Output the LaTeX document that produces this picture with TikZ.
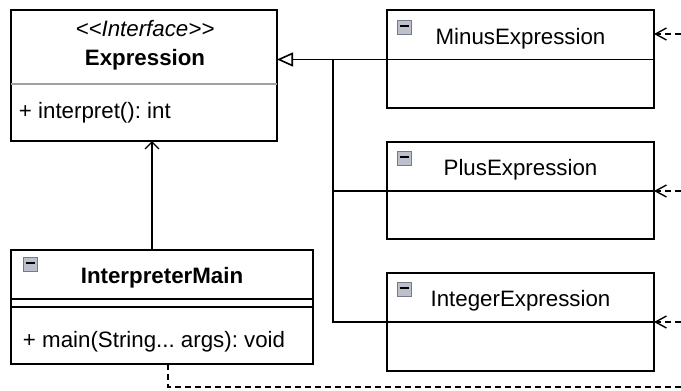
\documentclass[tikz,border=0pt]{standalone}
\usepackage{fontspec}
\setmainfont{Liberation Sans}
\usetikzlibrary{arrows.meta}
\definecolor{iconfill}{RGB}{188,192,204}
\definecolor{iconborder}{RGB}{118,122,134}
\definecolor{sepgray}{RGB}{160,160,160}
\begin{document}
\frenchspacing
\begin{tikzpicture}[x=1pt,y=-1pt,
  every node/.style={font=\fontsize{22.3pt}{26pt}\selectfont\frenchspacing, inner sep=0pt, outer sep=0pt},
  umlbox/.style={draw, line width=1.6pt, rectangle, anchor=north west},
  sepline/.style={line width=1.6pt},
  icon/.style={draw=iconborder, fill=iconfill, line width=0.8pt, minimum size=14pt, anchor=north west,
    path picture={\draw[line width=1.9pt, black] ([xshift=-4.5pt,yshift=1pt]path picture bounding box.center) -- ([xshift=4.5pt,yshift=1pt]path picture bounding box.center);}},
  gen/.style={line width=1.6pt},
  genarrow/.style={line width=1.6pt, -{Triangle[open, length=16pt, width=14pt, line width=1.6pt]}},
  assoc/.style={line width=1.6pt, -{Straight Barb[length=7pt, width=14pt, line width=1.4pt]}},
  dep/.style={line width=1.5pt, dash pattern=on 6pt off 4pt},
  deparrow/.style={line width=1.4pt, dash pattern=on 6pt off 4pt, -{Straight Barb[length=11pt, width=12pt, line width=1.4pt]}},
]
\useasboundingbox (0,0) rectangle (681,391);

% Expression interface
\node[umlbox, minimum width=266pt, minimum height=131pt] (expr) at (11,10) {};
\node[anchor=base, font=\fontsize{22.3pt}{26pt}\selectfont\itshape] (exprst) at (145,36) {<{}<Interface>{}>};
\node[anchor=base, font=\fontsize{22.3pt}{26pt}\selectfont\bfseries] (exprname) at (145,65) {Expression};
\draw[line width=1.2pt, sepgray] (expr.west |- 0,84) -- (expr.east |- 0,84);
\node[anchor=base west] (exprop) at (19,118) {+ interpret(): int};

% InterpreterMain
\node[umlbox, minimum width=302pt, minimum height=114pt] (main) at (11,250) {};
\node[icon] (mainicon) at (23,257) {};
\node[anchor=base, font=\fontsize{22.3pt}{26pt}\selectfont\bfseries] (mainname) at (162,283) {InterpreterMain};
\draw[sepline] (main.west |- 0,299) -- (main.east |- 0,299);
\draw[sepline] (main.west |- 0,307) -- (main.east |- 0,307);
\node[anchor=base west] (mainop) at (23,347) {+ main(String... args): void};

% MinusExpression
\node[umlbox, minimum width=267pt, minimum height=98pt] (minus) at (387,10) {};
\node[icon] (minusicon) at (397,20) {};
\node[anchor=base] (minusname) at (520.5,44) {MinusExpression};
\draw[sepline] (minus.west |- 0,59.5) -- (minus.east |- 0,59.5);

% PlusExpression
\node[umlbox, minimum width=267pt, minimum height=97pt] (plus) at (387,142) {};
\node[icon] (plusicon) at (397,151) {};
\node[anchor=base] (plusname) at (520.5,175) {PlusExpression};
\draw[sepline] (plus.west |- 0,191) -- (plus.east |- 0,191);

% IntegerExpression
\node[umlbox, minimum width=267pt, minimum height=98pt] (integer) at (387,273) {};
\node[icon] (inticon) at (397,282) {};
\node[anchor=base] (intname) at (520.5,306) {IntegerExpression};
\draw[sepline] (integer.west |- 0,322) -- (integer.east |- 0,322);

% generalisation
\coordinate (trunk) at (333,59.5);
\draw[genarrow] (minus.west |- 0,59.5) -- (expr.east |- 0,59.5);
\draw[gen] (plus.west |- 0,191) -| (trunk);
\draw[gen] (integer.west |- 0,322) -| (trunk);

% association
\coordinate (ax) at (152,0);
\draw[assoc] (ax |- main.north) -- (ax |- expr.south);

% dependencies
\coordinate (dx) at (168,0);
\coordinate (dend) at (681,387);
\draw[dep] (dx |- main.south) |- (dend);
\coordinate (dm) at (681,34);
\coordinate (dp) at (681,191);
\coordinate (di) at (681,322);
\draw[deparrow] (dm) -- (minus.east |- dm);
\draw[deparrow] (dp) -- (plus.east |- dp);
\draw[deparrow] (di) -- (integer.east |- di);
\end{tikzpicture}
\end{document}
